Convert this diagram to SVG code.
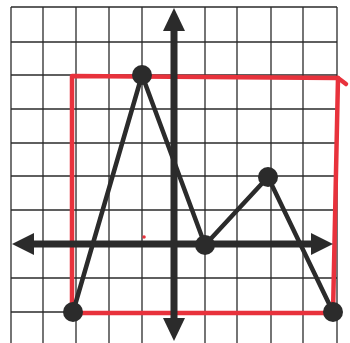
<svg xmlns="http://www.w3.org/2000/svg" width="350" height="343" viewBox="0 0 350 343">
<style>
.grid line{stroke:#2a2a2a;stroke-width:1.3}
.axis{stroke:#2b2b2b;stroke-width:7;fill:none}
.head{fill:#2b2b2b}
.edge{stroke:#2b2b2b;stroke-width:4.5;fill:none;stroke-linejoin:round;stroke-linecap:round}
.dot{fill:#2b2b2b}
.red{stroke:#e8323c;stroke-width:4.5;fill:none;stroke-linejoin:round;stroke-linecap:round}
</style>
<rect width="350" height="343" fill="#ffffff"/>
<g class="grid">
<line x1="11" y1="7" x2="11" y2="343"/>
<line x1="43" y1="7" x2="43" y2="343"/>
<line x1="76" y1="7" x2="76" y2="343"/>
<line x1="109" y1="7" x2="109" y2="343"/>
<line x1="142" y1="7" x2="142" y2="343"/>
<line x1="205" y1="7" x2="205" y2="343"/>
<line x1="237" y1="7" x2="237" y2="343"/>
<line x1="271" y1="7" x2="271" y2="343"/>
<line x1="303" y1="7" x2="303" y2="343"/>
<line x1="337" y1="7" x2="337" y2="343"/>
<line x1="11" y1="7" x2="337" y2="7"/>
<line x1="11" y1="42" x2="337" y2="42"/>
<line x1="11" y1="75" x2="337" y2="75"/>
<line x1="11" y1="109" x2="337" y2="109"/>
<line x1="11" y1="143" x2="337" y2="143"/>
<line x1="11" y1="176" x2="337" y2="176"/>
<line x1="11" y1="210" x2="337" y2="210"/>
<line x1="11" y1="278" x2="337" y2="278"/>
<line x1="11" y1="312" x2="337" y2="312"/>
</g>
<g id="rectangle">
<path class="red" d="M72,313 L72,76 L338,78 L333,313 Z"/>
<path class="red" d="M338,78 L346,84" stroke-width="2.5"/>
<circle cx="144" cy="237" r="1.8" fill="#e8323c"/>
</g>
<g id="axes">
<line class="axis" x1="30" y1="244" x2="318" y2="244"/>
<polygon class="head" points="12,244 34,233 34,255"/>
<polygon class="head" points="333,244 311,233 311,255"/>
<line class="axis" x1="174" y1="26" x2="174" y2="322"/>
<polygon class="head" points="174,8 163,31 185,31"/>
<polygon class="head" points="174,341 163,318 185,318"/>
</g>
<g id="connectors">
<polyline class="edge" points="73,312 142,75 205,245 268,177 333,312"/>
</g>
<g id="p1"><circle class="dot" cx="73" cy="312" r="10"/></g>
<g id="p2"><circle class="dot" cx="142" cy="75" r="10"/></g>
<g id="p3"><circle class="dot" cx="205" cy="245" r="10"/></g>
<g id="p4"><circle class="dot" cx="268" cy="177" r="10"/></g>
<g id="p5"><circle class="dot" cx="333" cy="312" r="10"/></g>
</svg>
